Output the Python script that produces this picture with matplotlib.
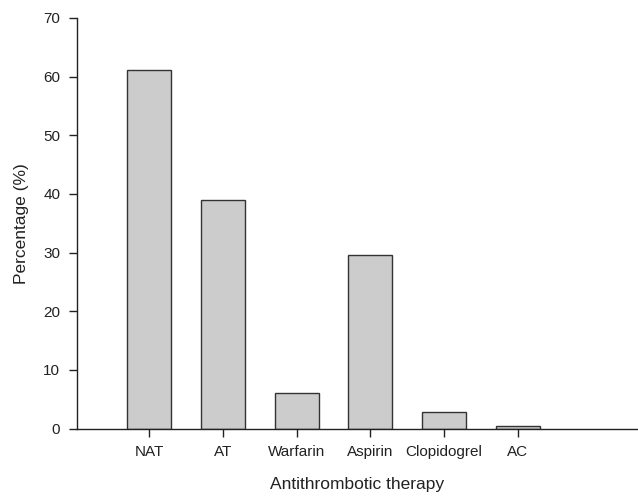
import matplotlib
matplotlib.use("Agg")
import matplotlib.pyplot as plt

# therapy groups and share of patients (%)
categories = ["NAT", "AT", "Warfarin", "Aspirin", "Clopidogrel", "AC"]
percentages = [61.1, 38.9, 6.0, 29.6, 2.9, 0.5]

plt.rcParams["font.family"] = ["Liberation Sans", "DejaVu Sans"]

fig = plt.figure(figsize=(6.38, 4.96), dpi=100)
ax = fig.add_axes([0.1207, 0.136, 0.879, 0.828])

x = list(range(len(categories)))
ax.bar(x, percentages, width=0.6, color="#cccccc",
       edgecolor="#333333", linewidth=1.0)

ax.set_xlim(-0.98, 6.63)
ax.set_ylim(0, 70)
ax.set_yticks(range(0, 71, 10))
ax.set_xticks(x)
ax.set_xticklabels(categories)

for side in ["top", "right"]:
    ax.spines[side].set_visible(False)
for side in ["left", "bottom"]:
    ax.spines[side].set_linewidth(1.0)
    ax.spines[side].set_color("#222222")

ax.tick_params(axis="both", direction="out", length=6, width=1.0,
               labelsize=11, color="#222222", labelcolor="#222222", pad=6)
ax.set_xlabel("Antithrombotic therapy", fontsize=12.5, labelpad=13,
              color="#222222")
ax.set_ylabel("Percentage (%)", fontsize=12.5, labelpad=10, color="#222222")

fig.savefig("out.png", dpi=100)
